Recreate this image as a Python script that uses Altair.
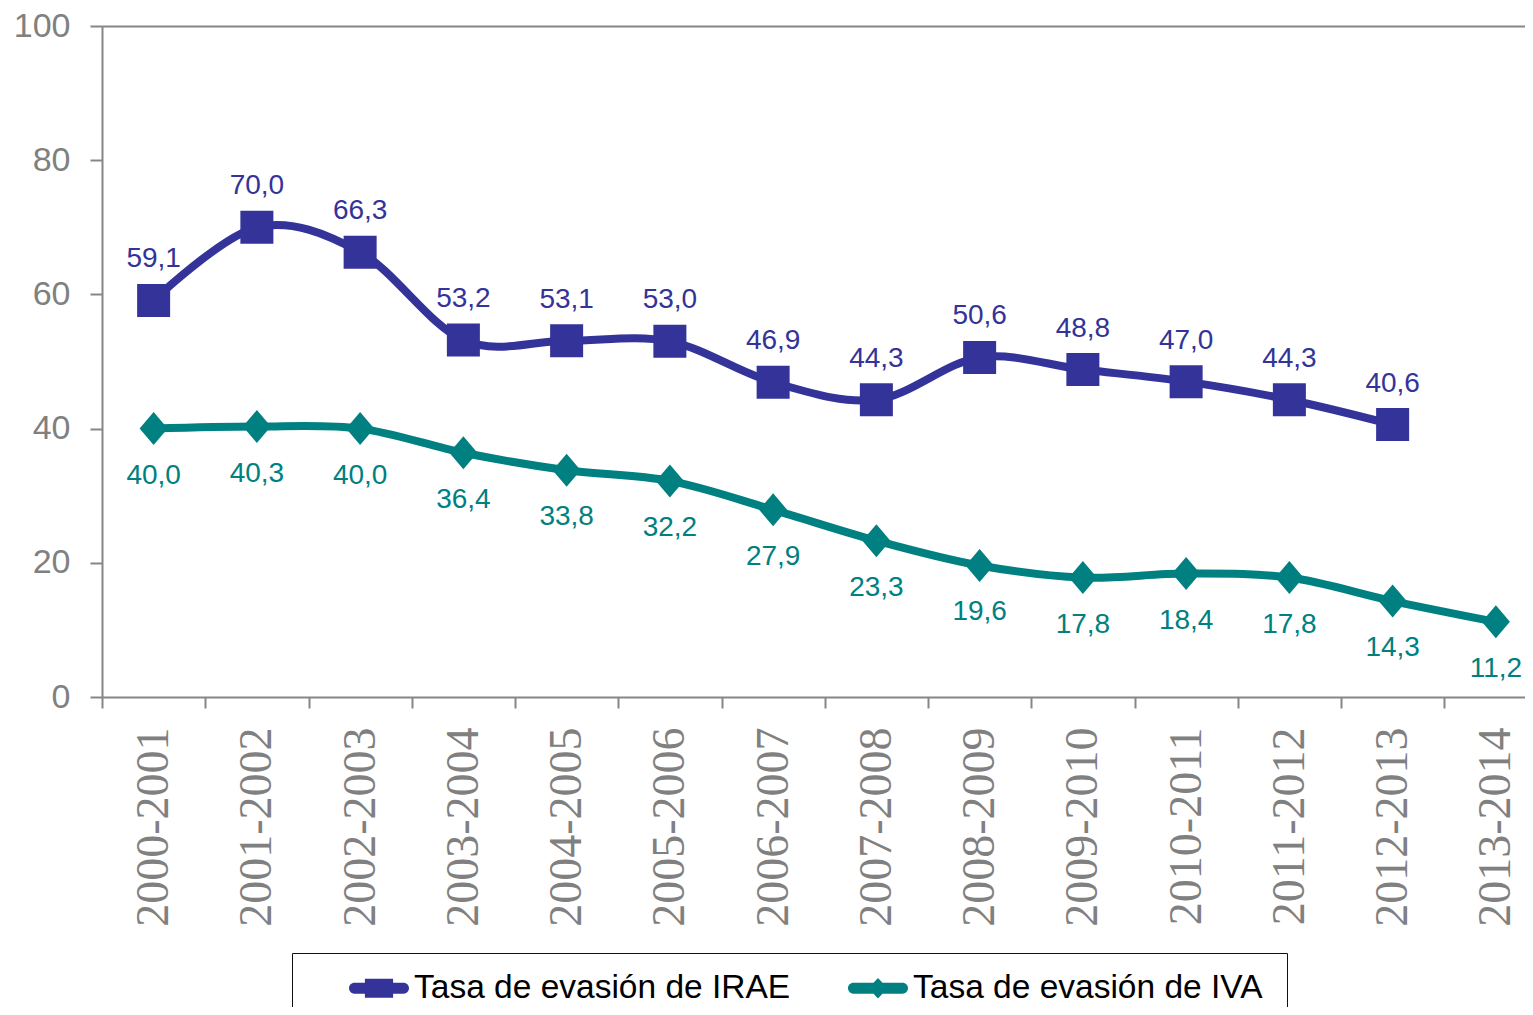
import altair as alt
import pandas as pd

categories = ["2000-2001", "2001-2002", "2002-2003", "2003-2004", "2004-2005",
              "2005-2006", "2006-2007", "2007-2008", "2008-2009", "2009-2010",
              "2010-2011", "2011-2012", "2012-2013", "2013-2014"]
irae = [59.1, 70.0, 66.3, 53.2, 53.1, 53.0, 46.9, 44.3, 50.6, 48.8, 47.0, 44.3, 40.6]
iva = [40.0, 40.3, 40.0, 36.4, 33.8, 32.2, 27.9, 23.3, 19.6, 17.8, 18.4, 17.8, 14.3, 11.2]
series_names = ["Tasa de evasión de IRAE", "Tasa de evasión de IVA"]
y_ticks = [0, 20, 40, 60, 80, 100]

rows = []
for name, vals, key in [(series_names[0], irae, "pt IRAE"), (series_names[1], iva, "pt IVA")]:
    for cat, v in zip(categories, vals):
        rows.append({"period": cat, "value": v, "series": name, "pt": key,
                     "label": f"{v:.1f}".replace(".", ",")})
df = pd.DataFrame(rows)

BLUE = "#333399"
TEAL = "#008080"
GRAY = "#868686"

dom = series_names + ["pt IRAE", "pt IVA"]
color_scale = alt.Scale(domain=dom, range=[BLUE, TEAL, BLUE, TEAL])
leg_irae = ("M-0.82,-0.18 L0.82,-0.18 A0.18,0.18 0 0 1 0.82,0.18 L-0.82,0.18 "
            "A0.18,0.18 0 0 1 -0.82,-0.18 Z "
            "M-0.47,-0.32 L0.47,-0.32 L0.47,0.32 L-0.47,0.32 Z")
leg_iva = ("M-0.82,-0.18 L0.82,-0.18 A0.18,0.18 0 0 1 0.82,0.18 L-0.82,0.18 "
           "A0.18,0.18 0 0 1 -0.82,-0.18 Z "
           "M0,-0.34 L0.32,0 L0,0.34 L-0.32,0 Z")
diamond = "M0,-1 L0.85,0 L0,1 L-0.85,0 Z"
shape_scale = alt.Scale(domain=dom, range=[leg_irae, leg_iva, "square", diamond])

legend = alt.Legend(
    title=None, orient="none", legendX=190, legendY=927, direction="horizontal",
    columns=2, columnPadding=24, padding=24, clipHeight=22,
    symbolOffset=33, labelOffset=5, symbolSize=3600, symbolStrokeWidth=0,
    labelFont="Liberation Sans", labelFontSize=33.5, labelColor="#000000",
    labelLimit=800, strokeColor="#111111", values=series_names,
    labelExpr="datum.index == 1 ? datum.label + '   ' : datum.label",
)

x_enc = alt.X(
    "period:N", sort=categories, title=None,
    scale=alt.Scale(type="band", paddingInner=0, paddingOuter=0, range=[0, 1445.5]),
    axis=alt.Axis(
        tickBand="extent", tickSize=11, tickColor=GRAY, tickWidth=2,
        domainColor=GRAY, domainWidth=2, labelAngle=270, labelAlign="right",
        labelBaseline="middle", labelPadding=19, labelFont="Liberation Serif",
        labelFontSize=46, labelColor="#808080", labelLimit=600, grid=False,
    ),
)
y_enc = alt.Y(
    "value:Q", title=None,
    scale=alt.Scale(domain=[0, 100], nice=False),
    axis=alt.Axis(
        values=y_ticks, tickSize=12, tickColor=GRAY, tickWidth=2,
        domainColor=GRAY, domainWidth=2, labelPadding=20,
        labelFont="Liberation Sans", labelFontSize=34, labelColor="#808080",
        grid=True, gridColor=GRAY, gridWidth=2,
        gridOpacity={"condition": {"test": "datum.value === 100", "value": 1}, "value": 0},
    ),
)

base = alt.Chart(df)

line_irae = base.transform_filter(alt.datum.pt == "pt IRAE").mark_line(
    interpolate="cardinal", strokeWidth=8, strokeCap="round", strokeJoin="round",
    color=BLUE).encode(x=x_enc, y=y_enc)
line_iva = base.transform_filter(alt.datum.pt == "pt IVA").mark_line(
    interpolate="cardinal", strokeWidth=8, strokeCap="round", strokeJoin="round",
    color=TEAL).encode(x=x_enc, y=y_enc)

points = base.mark_point(filled=True, opacity=1, size=1089, strokeWidth=0).encode(
    x=x_enc, y=y_enc,
    color=alt.Color("pt:N", scale=color_scale, legend=legend),
    shape=alt.Shape("pt:N", scale=shape_scale, legend=legend),
)

labels_irae = base.transform_filter(alt.datum.pt == "pt IRAE").mark_text(
    dy=-41, fontSize=28, font="Liberation Sans", baseline="middle", color=BLUE
).encode(x=x_enc, y=y_enc, text="label:N")
labels_iva = base.transform_filter(alt.datum.pt == "pt IVA").mark_text(
    dy=47, fontSize=28, font="Liberation Sans", baseline="middle", color=TEAL
).encode(x=x_enc, y=y_enc, text="label:N")

chart = alt.layer(line_irae, line_iva, points, labels_irae, labels_iva).properties(
    width=1423, height=671,
    autosize=alt.AutoSizeParams(type="none"),
    padding={"left": 94, "top": 18, "right": 0, "bottom": 310},
).configure_view(stroke=None).configure(font="Liberation Sans", background="white")

chart.save("out.html", embed_options={"renderer": "svg", "actions": False})
